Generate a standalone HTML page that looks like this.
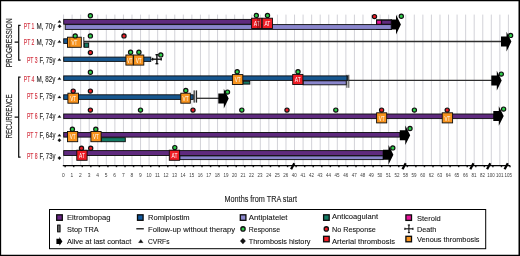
<!DOCTYPE html>
<html lang="en"><head><meta charset="utf-8"><title>TRA timeline</title>
<style>html,body{margin:0;padding:0;background:#fff}body{width:520px;height:256px;overflow:hidden}svg{display:block}</style></head>
<body>
<svg width="520" height="256" viewBox="0 0 520 256" font-family="'Liberation Sans', sans-serif">
<rect x="0" y="0" width="520" height="256" fill="#fff"/>
<path d="M0 0H520V256H0Z M1.15 1.35V254.75H518.5V1.35Z" fill="#000" fill-rule="evenodd"/>
<g stroke="#cdcdd4" stroke-width="0.9">
<line x1="63.55" y1="14.6" x2="63.55" y2="165.5"/>
<line x1="72.10" y1="14.6" x2="72.10" y2="165.5"/>
<line x1="80.66" y1="14.6" x2="80.66" y2="165.5"/>
<line x1="89.22" y1="14.6" x2="89.22" y2="165.5"/>
<line x1="97.77" y1="14.6" x2="97.77" y2="165.5"/>
<line x1="106.32" y1="14.6" x2="106.32" y2="165.5"/>
<line x1="114.88" y1="14.6" x2="114.88" y2="165.5"/>
<line x1="123.44" y1="14.6" x2="123.44" y2="165.5"/>
<line x1="131.99" y1="14.6" x2="131.99" y2="165.5"/>
<line x1="140.55" y1="14.6" x2="140.55" y2="165.5"/>
<line x1="149.10" y1="14.6" x2="149.10" y2="165.5"/>
<line x1="157.65" y1="14.6" x2="157.65" y2="165.5"/>
<line x1="166.21" y1="14.6" x2="166.21" y2="165.5"/>
<line x1="174.76" y1="14.6" x2="174.76" y2="165.5"/>
<line x1="183.32" y1="14.6" x2="183.32" y2="165.5"/>
<line x1="191.88" y1="14.6" x2="191.88" y2="165.5"/>
<line x1="200.43" y1="14.6" x2="200.43" y2="165.5"/>
<line x1="208.99" y1="14.6" x2="208.99" y2="165.5"/>
<line x1="217.54" y1="14.6" x2="217.54" y2="165.5"/>
<line x1="226.09" y1="14.6" x2="226.09" y2="165.5"/>
<line x1="234.65" y1="14.6" x2="234.65" y2="165.5"/>
<line x1="243.20" y1="14.6" x2="243.20" y2="165.5"/>
<line x1="251.76" y1="14.6" x2="251.76" y2="165.5"/>
<line x1="260.31" y1="14.6" x2="260.31" y2="165.5"/>
<line x1="268.87" y1="14.6" x2="268.87" y2="165.5"/>
<line x1="277.43" y1="14.6" x2="277.43" y2="165.5"/>
<line x1="285.98" y1="14.6" x2="285.98" y2="165.5"/>
<line x1="294.53" y1="14.6" x2="294.53" y2="165.5"/>
<line x1="303.09" y1="14.6" x2="303.09" y2="165.5"/>
<line x1="311.64" y1="14.6" x2="311.64" y2="165.5"/>
<line x1="320.20" y1="14.6" x2="320.20" y2="165.5"/>
<line x1="328.75" y1="14.6" x2="328.75" y2="165.5"/>
<line x1="337.31" y1="14.6" x2="337.31" y2="165.5"/>
<line x1="345.87" y1="14.6" x2="345.87" y2="165.5"/>
<line x1="354.42" y1="14.6" x2="354.42" y2="165.5"/>
<line x1="362.98" y1="14.6" x2="362.98" y2="165.5"/>
<line x1="371.53" y1="14.6" x2="371.53" y2="165.5"/>
<line x1="380.08" y1="14.6" x2="380.08" y2="165.5"/>
<line x1="388.64" y1="14.6" x2="388.64" y2="165.5"/>
<line x1="397.19" y1="14.6" x2="397.19" y2="165.5"/>
<line x1="405.75" y1="14.6" x2="405.75" y2="165.5"/>
<line x1="414.31" y1="14.6" x2="414.31" y2="165.5"/>
<line x1="422.86" y1="14.6" x2="422.86" y2="165.5"/>
<line x1="431.42" y1="14.6" x2="431.42" y2="165.5"/>
<line x1="439.97" y1="14.6" x2="439.97" y2="165.5"/>
<line x1="448.52" y1="14.6" x2="448.52" y2="165.5"/>
<line x1="457.08" y1="14.6" x2="457.08" y2="165.5"/>
<line x1="465.63" y1="14.6" x2="465.63" y2="165.5"/>
<line x1="474.19" y1="14.6" x2="474.19" y2="165.5"/>
<line x1="482.75" y1="14.6" x2="482.75" y2="165.5"/>
<line x1="491.30" y1="14.6" x2="491.30" y2="165.5"/>
<line x1="499.86" y1="14.6" x2="499.86" y2="165.5"/>
<line x1="508.41" y1="14.6" x2="508.41" y2="165.5"/>
</g>
<rect x="376" y="19.4" width="16" height="10.4" fill="#000"/>
<path d="M390.50 19.60H396.00V14.80L400.90 24.60L396.00 34.40V29.60H390.50Z" fill="#000"/>
<rect x="63.70" y="19.40" width="187.50" height="4.80" fill="#5f2a7e" stroke="#0c0c0c" stroke-width="0.9"/>
<rect x="65.20" y="24.60" width="326.00" height="4.80" fill="#8a86cc" stroke="#0c0c0c" stroke-width="0.9"/>
<rect x="251.60" y="18.20" width="10.20" height="10.30" fill="#ee1c25" stroke="#0c0c0c" stroke-width="0.9"/>
<text x="253.75" y="26.05" font-size="7.5" fill="#fff" stroke="#fff" stroke-width="0" text-anchor="start" textLength="5.90" lengthAdjust="spacingAndGlyphs" >AT</text>
<rect x="262.20" y="18.20" width="10.30" height="10.30" fill="#ee1c25" stroke="#0c0c0c" stroke-width="0.9"/>
<text x="264.40" y="26.05" font-size="7.5" fill="#fff" stroke="#fff" stroke-width="0" text-anchor="start" textLength="5.90" lengthAdjust="spacingAndGlyphs" >AT</text>
<line x1="257.80" y1="18.30" x2="257.80" y2="28.40" stroke="#4a0508" stroke-width="0.6" />
<line x1="259.30" y1="18.30" x2="259.30" y2="28.40" stroke="#4a0508" stroke-width="0.6" />
<rect x="376.70" y="20.20" width="4.60" height="4.00" fill="#e8149a" stroke="#0c0c0c" stroke-width="0.9"/>
<rect x="381.70" y="20.20" width="9.50" height="4.00" fill="#5f2a7e" stroke="#0c0c0c" stroke-width="0.9"/>
<circle cx="90.40" cy="15.70" r="2.1" fill="#2fd04a" stroke="#111" stroke-width="1.2"/>
<circle cx="256.30" cy="15.40" r="2.1" fill="#2fd04a" stroke="#111" stroke-width="1.2"/>
<circle cx="267.50" cy="15.40" r="2.1" fill="#2fd04a" stroke="#111" stroke-width="1.2"/>
<circle cx="374.50" cy="16.60" r="2.1" fill="#ee1c25" stroke="#111" stroke-width="1.2"/>
<circle cx="401.30" cy="16.30" r="2.1" fill="#2fd04a" stroke="#111" stroke-width="1.2"/>
<line x1="84.00" y1="41.50" x2="502.00" y2="41.50" stroke="#303030" stroke-width="1.3" />
<rect x="63.70" y="38.80" width="4.10" height="4.60" fill="#17578f" stroke="#0c0c0c" stroke-width="0.9"/>
<rect x="67.50" y="37.20" width="13.80" height="10.10" fill="#f7931e" stroke="#0c0c0c" stroke-width="0.9"/>
<text x="71.45" y="44.95" font-size="7.5" fill="#fff" stroke="#fff" stroke-width="0" text-anchor="start" textLength="5.90" lengthAdjust="spacingAndGlyphs" >VT</text>
<line x1="69.80" y1="37.00" x2="69.80" y2="47.50" stroke="#6b3d08" stroke-width="0.6" />
<line x1="83.80" y1="37.00" x2="83.80" y2="47.50" stroke="#111" stroke-width="0.9" />
<rect x="84.40" y="43.00" width="4.20" height="4.30" fill="#147a64" stroke="#0c0c0c" stroke-width="0.9"/>
<path d="M501.00 36.60H506.50V31.80L511.40 41.60L506.50 51.40V46.60H501.00Z" fill="#000"/>
<circle cx="75.20" cy="35.90" r="2.1" fill="#2fd04a" stroke="#111" stroke-width="1.2"/>
<circle cx="90.40" cy="35.90" r="2.1" fill="#2fd04a" stroke="#111" stroke-width="1.2"/>
<circle cx="124.00" cy="35.90" r="2.1" fill="#ee1c25" stroke="#111" stroke-width="1.2"/>
<circle cx="510.60" cy="35.40" r="2.1" fill="#2fd04a" stroke="#111" stroke-width="1.2"/>
<rect x="63.70" y="57.10" width="87.10" height="4.30" fill="#17578f" stroke="#0c0c0c" stroke-width="0.9"/>
<rect x="125.90" y="55.00" width="7.30" height="10.10" fill="#f7931e" stroke="#0c0c0c" stroke-width="0.9"/>
<text x="126.90" y="62.75" font-size="7.5" fill="#fff" stroke="#fff" stroke-width="0" text-anchor="start" textLength="5.30" lengthAdjust="spacingAndGlyphs" >VT</text>
<rect x="133.60" y="55.00" width="10.20" height="10.10" fill="#f7931e" stroke="#0c0c0c" stroke-width="0.9"/>
<text x="135.75" y="62.75" font-size="7.5" fill="#fff" stroke="#fff" stroke-width="0" text-anchor="start" textLength="5.90" lengthAdjust="spacingAndGlyphs" >VT</text>
<line x1="151.00" y1="59.30" x2="153.00" y2="59.30" stroke="#111" stroke-width="0.9" />
<line x1="152.60" y1="59.20" x2="161.20" y2="59.20" stroke="#111" stroke-width="1.4" />
<line x1="156.90" y1="54.70" x2="156.90" y2="63.70" stroke="#111" stroke-width="1.4" />
<line x1="152.60" y1="57.80" x2="152.60" y2="60.60" stroke="#111" stroke-width="1.4" />
<line x1="161.20" y1="57.80" x2="161.20" y2="60.60" stroke="#111" stroke-width="1.4" />
<line x1="155.50" y1="54.70" x2="158.30" y2="54.70" stroke="#111" stroke-width="1.4" />
<line x1="155.50" y1="63.70" x2="158.30" y2="63.70" stroke="#111" stroke-width="1.4" />
<circle cx="90.40" cy="52.60" r="2.1" fill="#ee1c25" stroke="#111" stroke-width="1.2"/>
<circle cx="130.60" cy="52.30" r="2.1" fill="#2fd04a" stroke="#111" stroke-width="1.2"/>
<circle cx="138.90" cy="52.30" r="2.1" fill="#2fd04a" stroke="#111" stroke-width="1.2"/>
<circle cx="160.80" cy="54.90" r="2.1" fill="#2fd04a" stroke="#111" stroke-width="1.2"/>
<line x1="348.50" y1="80.40" x2="492.00" y2="80.40" stroke="#303030" stroke-width="1.3" />
<rect x="63.70" y="75.90" width="284.10" height="4.50" fill="#17578f" stroke="#0c0c0c" stroke-width="0.9"/>
<rect x="303.20" y="80.80" width="43.00" height="4.00" fill="#8a86cc" stroke="#0c0c0c" stroke-width="0.9"/>
<rect x="243.20" y="81.30" width="6.60" height="2.80" fill="#147a64" stroke="#0c0c0c" stroke-width="0.9"/>
<rect x="232.40" y="74.60" width="10.40" height="9.90" fill="#f7931e" stroke="#0c0c0c" stroke-width="0.9"/>
<text x="234.65" y="82.25" font-size="7.5" fill="#fff" stroke="#fff" stroke-width="0" text-anchor="start" textLength="5.90" lengthAdjust="spacingAndGlyphs" >VT</text>
<rect x="292.70" y="74.40" width="10.20" height="10.10" fill="#ee1c25" stroke="#0c0c0c" stroke-width="0.9"/>
<text x="294.85" y="82.15" font-size="7.5" fill="#fff" stroke="#fff" stroke-width="0" text-anchor="start" textLength="5.90" lengthAdjust="spacingAndGlyphs" >AT</text>
<line x1="346.90" y1="74.80" x2="346.90" y2="87.80" stroke="#111" stroke-width="0.8" />
<line x1="348.80" y1="74.80" x2="348.80" y2="87.80" stroke="#111" stroke-width="0.8" />
<path d="M491.30 75.60H496.80V70.80L501.70 80.60L496.80 90.40V85.60H491.30Z" fill="#000"/>
<circle cx="90.40" cy="72.20" r="2.1" fill="#2fd04a" stroke="#111" stroke-width="1.2"/>
<circle cx="237.20" cy="71.80" r="2.1" fill="#2fd04a" stroke="#111" stroke-width="1.2"/>
<circle cx="298.00" cy="71.80" r="2.1" fill="#2fd04a" stroke="#111" stroke-width="1.2"/>
<circle cx="501.30" cy="74.10" r="2.1" fill="#2fd04a" stroke="#111" stroke-width="1.2"/>
<line x1="196.70" y1="98.30" x2="219.00" y2="98.30" stroke="#303030" stroke-width="1.3" />
<rect x="63.70" y="94.80" width="129.50" height="4.60" fill="#17578f" stroke="#0c0c0c" stroke-width="0.9"/>
<rect x="67.90" y="93.20" width="10.60" height="10.00" fill="#f7931e" stroke="#0c0c0c" stroke-width="0.9"/>
<text x="70.25" y="100.90" font-size="7.5" fill="#fff" stroke="#fff" stroke-width="0" text-anchor="start" textLength="5.90" lengthAdjust="spacingAndGlyphs" >VT</text>
<rect x="180.80" y="93.20" width="9.50" height="10.00" fill="#f7931e" stroke="#0c0c0c" stroke-width="0.9"/>
<text x="182.60" y="100.90" font-size="7.5" fill="#fff" stroke="#fff" stroke-width="0" text-anchor="start" textLength="5.90" lengthAdjust="spacingAndGlyphs" >VT</text>
<rect x="194" y="90.5" width="2.6" height="12" fill="#c4c4c4"/>
<line x1="194.10" y1="90.40" x2="194.10" y2="102.60" stroke="#111" stroke-width="1.0" />
<line x1="196.60" y1="90.40" x2="196.60" y2="102.60" stroke="#111" stroke-width="1.0" />
<path d="M218.30 93.60H223.80V88.80L228.70 98.60L223.80 108.40V103.60H218.30Z" fill="#000"/>
<circle cx="73.20" cy="91.10" r="2.1" fill="#ee1c25" stroke="#111" stroke-width="1.2"/>
<circle cx="90.40" cy="91.10" r="2.1" fill="#ee1c25" stroke="#111" stroke-width="1.2"/>
<circle cx="185.80" cy="90.40" r="2.1" fill="#2fd04a" stroke="#111" stroke-width="1.2"/>
<circle cx="227.50" cy="92.10" r="2.1" fill="#2fd04a" stroke="#111" stroke-width="1.2"/>
<rect x="63.70" y="114.00" width="430.10" height="4.60" fill="#5f2a7e" stroke="#0c0c0c" stroke-width="0.9"/>
<path d="M493.30 111.00H498.80V106.20L503.70 116.00L498.80 125.80V121.00H493.30Z" fill="#000"/>
<rect x="376.60" y="112.80" width="10.10" height="10.10" fill="#f7931e" stroke="#0c0c0c" stroke-width="0.9"/>
<text x="378.70" y="120.55" font-size="7.5" fill="#fff" stroke="#fff" stroke-width="0" text-anchor="start" textLength="5.90" lengthAdjust="spacingAndGlyphs" >VT</text>
<rect x="442.20" y="112.80" width="10.40" height="10.10" fill="#f7931e" stroke="#0c0c0c" stroke-width="0.9"/>
<text x="444.45" y="120.55" font-size="7.5" fill="#fff" stroke="#fff" stroke-width="0" text-anchor="start" textLength="5.90" lengthAdjust="spacingAndGlyphs" >VT</text>
<circle cx="90.40" cy="110.10" r="2.1" fill="#ee1c25" stroke="#111" stroke-width="1.2"/>
<circle cx="140.50" cy="110.10" r="2.1" fill="#2fd04a" stroke="#111" stroke-width="1.2"/>
<circle cx="193.00" cy="110.10" r="2.1" fill="#ee1c25" stroke="#111" stroke-width="1.2"/>
<circle cx="241.80" cy="110.10" r="2.1" fill="#2fd04a" stroke="#111" stroke-width="1.2"/>
<circle cx="287.00" cy="110.10" r="2.1" fill="#ee1c25" stroke="#111" stroke-width="1.2"/>
<circle cx="335.80" cy="110.10" r="2.1" fill="#2fd04a" stroke="#111" stroke-width="1.2"/>
<circle cx="381.60" cy="110.10" r="2.1" fill="#ee1c25" stroke="#111" stroke-width="1.2"/>
<circle cx="414.40" cy="110.10" r="2.1" fill="#2fd04a" stroke="#111" stroke-width="1.2"/>
<circle cx="447.20" cy="110.10" r="2.1" fill="#ee1c25" stroke="#111" stroke-width="1.2"/>
<circle cx="503.60" cy="109.10" r="2.1" fill="#2fd04a" stroke="#111" stroke-width="1.2"/>
<rect x="63.70" y="132.50" width="336.10" height="4.60" fill="#5f2a7e" stroke="#0c0c0c" stroke-width="0.9"/>
<rect x="101.50" y="137.70" width="23.80" height="4.00" fill="#147a64" stroke="#0c0c0c" stroke-width="0.9"/>
<rect x="67.50" y="131.50" width="10.20" height="10.20" fill="#f7931e" stroke="#0c0c0c" stroke-width="0.9"/>
<text x="69.65" y="139.30" font-size="7.5" fill="#fff" stroke="#fff" stroke-width="0" text-anchor="start" textLength="5.90" lengthAdjust="spacingAndGlyphs" >VT</text>
<rect x="90.90" y="131.50" width="10.20" height="10.20" fill="#f7931e" stroke="#0c0c0c" stroke-width="0.9"/>
<text x="93.05" y="139.30" font-size="7.5" fill="#fff" stroke="#fff" stroke-width="0" text-anchor="start" textLength="5.90" lengthAdjust="spacingAndGlyphs" >VT</text>
<path d="M399.80 130.30H405.30V125.50L410.20 135.30L405.30 145.10V140.30H399.80Z" fill="#000"/>
<circle cx="72.40" cy="129.30" r="2.1" fill="#2fd04a" stroke="#111" stroke-width="1.2"/>
<circle cx="95.80" cy="129.30" r="2.1" fill="#2fd04a" stroke="#111" stroke-width="1.2"/>
<circle cx="410.00" cy="128.50" r="2.1" fill="#2fd04a" stroke="#111" stroke-width="1.2"/>
<rect x="63.70" y="150.60" width="319.40" height="4.90" fill="#5f2a7e" stroke="#0c0c0c" stroke-width="0.9"/>
<rect x="179.90" y="155.90" width="203.20" height="3.70" fill="#8a86cc" stroke="#0c0c0c" stroke-width="0.9"/>
<rect x="76.80" y="150.20" width="10.30" height="10.10" fill="#ee1c25" stroke="#0c0c0c" stroke-width="0.9"/>
<text x="79.00" y="157.95" font-size="7.5" fill="#fff" stroke="#fff" stroke-width="0" text-anchor="start" textLength="5.90" lengthAdjust="spacingAndGlyphs" >AT</text>
<rect x="169.30" y="150.20" width="10.30" height="10.10" fill="#ee1c25" stroke="#0c0c0c" stroke-width="0.9"/>
<text x="171.50" y="157.95" font-size="7.5" fill="#fff" stroke="#fff" stroke-width="0" text-anchor="start" textLength="5.90" lengthAdjust="spacingAndGlyphs" >AT</text>
<path d="M383.00 149.80H388.50V145.00L393.40 154.80L388.50 164.60V159.80H383.00Z" fill="#000"/>
<circle cx="81.50" cy="148.20" r="2.1" fill="#ee1c25" stroke="#111" stroke-width="1.2"/>
<circle cx="90.70" cy="148.20" r="2.1" fill="#ee1c25" stroke="#111" stroke-width="1.2"/>
<circle cx="174.80" cy="147.60" r="2.1" fill="#2fd04a" stroke="#111" stroke-width="1.2"/>
<circle cx="392.80" cy="147.90" r="2.1" fill="#2fd04a" stroke="#111" stroke-width="1.2"/>
<line x1="62.80" y1="165.50" x2="510.00" y2="165.50" stroke="#000" stroke-width="1.25" />
<g stroke="#000" stroke-width="1.5" opacity="0.85">
<line x1="65.15" y1="165.6" x2="65.15" y2="167.2"/>
<line x1="73.70" y1="165.6" x2="73.70" y2="167.2"/>
<line x1="82.26" y1="165.6" x2="82.26" y2="167.2"/>
<line x1="90.81" y1="165.6" x2="90.81" y2="167.2"/>
<line x1="99.37" y1="165.6" x2="99.37" y2="167.2"/>
<line x1="107.92" y1="165.6" x2="107.92" y2="167.2"/>
<line x1="116.48" y1="165.6" x2="116.48" y2="167.2"/>
<line x1="125.03" y1="165.6" x2="125.03" y2="167.2"/>
<line x1="133.59" y1="165.6" x2="133.59" y2="167.2"/>
<line x1="142.15" y1="165.6" x2="142.15" y2="167.2"/>
<line x1="150.70" y1="165.6" x2="150.70" y2="167.2"/>
<line x1="159.25" y1="165.6" x2="159.25" y2="167.2"/>
<line x1="167.81" y1="165.6" x2="167.81" y2="167.2"/>
<line x1="176.36" y1="165.6" x2="176.36" y2="167.2"/>
<line x1="184.92" y1="165.6" x2="184.92" y2="167.2"/>
<line x1="193.47" y1="165.6" x2="193.47" y2="167.2"/>
<line x1="202.03" y1="165.6" x2="202.03" y2="167.2"/>
<line x1="210.59" y1="165.6" x2="210.59" y2="167.2"/>
<line x1="219.14" y1="165.6" x2="219.14" y2="167.2"/>
<line x1="227.69" y1="165.6" x2="227.69" y2="167.2"/>
<line x1="236.25" y1="165.6" x2="236.25" y2="167.2"/>
<line x1="244.80" y1="165.6" x2="244.80" y2="167.2"/>
<line x1="253.36" y1="165.6" x2="253.36" y2="167.2"/>
<line x1="261.92" y1="165.6" x2="261.92" y2="167.2"/>
<line x1="270.47" y1="165.6" x2="270.47" y2="167.2"/>
<line x1="279.03" y1="165.6" x2="279.03" y2="167.2"/>
<line x1="287.58" y1="165.6" x2="287.58" y2="167.2"/>
<line x1="296.13" y1="165.6" x2="296.13" y2="167.2"/>
<line x1="304.69" y1="165.6" x2="304.69" y2="167.2"/>
<line x1="313.25" y1="165.6" x2="313.25" y2="167.2"/>
<line x1="321.80" y1="165.6" x2="321.80" y2="167.2"/>
<line x1="330.36" y1="165.6" x2="330.36" y2="167.2"/>
<line x1="338.91" y1="165.6" x2="338.91" y2="167.2"/>
<line x1="347.47" y1="165.6" x2="347.47" y2="167.2"/>
<line x1="356.02" y1="165.6" x2="356.02" y2="167.2"/>
<line x1="364.58" y1="165.6" x2="364.58" y2="167.2"/>
<line x1="373.13" y1="165.6" x2="373.13" y2="167.2"/>
<line x1="381.69" y1="165.6" x2="381.69" y2="167.2"/>
<line x1="390.24" y1="165.6" x2="390.24" y2="167.2"/>
<line x1="398.80" y1="165.6" x2="398.80" y2="167.2"/>
<line x1="407.35" y1="165.6" x2="407.35" y2="167.2"/>
<line x1="415.91" y1="165.6" x2="415.91" y2="167.2"/>
<line x1="424.46" y1="165.6" x2="424.46" y2="167.2"/>
<line x1="433.02" y1="165.6" x2="433.02" y2="167.2"/>
<line x1="441.57" y1="165.6" x2="441.57" y2="167.2"/>
<line x1="450.12" y1="165.6" x2="450.12" y2="167.2"/>
<line x1="458.68" y1="165.6" x2="458.68" y2="167.2"/>
<line x1="467.24" y1="165.6" x2="467.24" y2="167.2"/>
<line x1="475.79" y1="165.6" x2="475.79" y2="167.2"/>
<line x1="484.35" y1="165.6" x2="484.35" y2="167.2"/>
<line x1="492.90" y1="165.6" x2="492.90" y2="167.2"/>
<line x1="501.46" y1="165.6" x2="501.46" y2="167.2"/>
<line x1="510.01" y1="165.6" x2="510.01" y2="167.2"/>
</g>
<line x1="294.30" y1="163.30" x2="291.10" y2="169.30" stroke="#000" stroke-width="2.3" />
<line x1="405.70" y1="163.30" x2="402.50" y2="169.30" stroke="#000" stroke-width="2.3" />
<line x1="473.50" y1="163.30" x2="470.30" y2="169.30" stroke="#000" stroke-width="2.3" />
<line x1="490.30" y1="163.30" x2="487.10" y2="169.30" stroke="#000" stroke-width="2.3" />
<line x1="507.80" y1="163.30" x2="504.60" y2="169.30" stroke="#000" stroke-width="2.3" />
<g font-size="5.4" fill="#3a3a3a" text-anchor="middle">
<text x="63.35" y="176.7" textLength="2.7" lengthAdjust="spacingAndGlyphs">0</text>
<text x="71.90" y="176.7" textLength="2.7" lengthAdjust="spacingAndGlyphs">1</text>
<text x="80.46" y="176.7" textLength="2.7" lengthAdjust="spacingAndGlyphs">2</text>
<text x="89.02" y="176.7" textLength="2.7" lengthAdjust="spacingAndGlyphs">3</text>
<text x="97.57" y="176.7" textLength="2.7" lengthAdjust="spacingAndGlyphs">4</text>
<text x="106.12" y="176.7" textLength="2.7" lengthAdjust="spacingAndGlyphs">5</text>
<text x="114.68" y="176.7" textLength="2.7" lengthAdjust="spacingAndGlyphs">6</text>
<text x="123.23" y="176.7" textLength="2.7" lengthAdjust="spacingAndGlyphs">7</text>
<text x="131.79" y="176.7" textLength="2.7" lengthAdjust="spacingAndGlyphs">8</text>
<text x="140.35" y="176.7" textLength="2.7" lengthAdjust="spacingAndGlyphs">9</text>
<text x="148.90" y="176.7" textLength="5.0" lengthAdjust="spacingAndGlyphs">10</text>
<text x="157.45" y="176.7" textLength="5.0" lengthAdjust="spacingAndGlyphs">11</text>
<text x="166.01" y="176.7" textLength="5.0" lengthAdjust="spacingAndGlyphs">12</text>
<text x="174.56" y="176.7" textLength="5.0" lengthAdjust="spacingAndGlyphs">13</text>
<text x="183.12" y="176.7" textLength="5.0" lengthAdjust="spacingAndGlyphs">14</text>
<text x="191.68" y="176.7" textLength="5.0" lengthAdjust="spacingAndGlyphs">15</text>
<text x="200.23" y="176.7" textLength="5.0" lengthAdjust="spacingAndGlyphs">16</text>
<text x="208.79" y="176.7" textLength="5.0" lengthAdjust="spacingAndGlyphs">17</text>
<text x="217.34" y="176.7" textLength="5.0" lengthAdjust="spacingAndGlyphs">18</text>
<text x="225.89" y="176.7" textLength="5.0" lengthAdjust="spacingAndGlyphs">19</text>
<text x="234.45" y="176.7" textLength="5.0" lengthAdjust="spacingAndGlyphs">20</text>
<text x="243.00" y="176.7" textLength="5.0" lengthAdjust="spacingAndGlyphs">21</text>
<text x="251.56" y="176.7" textLength="5.0" lengthAdjust="spacingAndGlyphs">22</text>
<text x="260.12" y="176.7" textLength="5.0" lengthAdjust="spacingAndGlyphs">23</text>
<text x="268.67" y="176.7" textLength="5.0" lengthAdjust="spacingAndGlyphs">24</text>
<text x="277.23" y="176.7" textLength="5.0" lengthAdjust="spacingAndGlyphs">25</text>
<text x="285.78" y="176.7" textLength="5.0" lengthAdjust="spacingAndGlyphs">26</text>
<text x="294.33" y="176.7" textLength="5.0" lengthAdjust="spacingAndGlyphs">40</text>
<text x="302.89" y="176.7" textLength="5.0" lengthAdjust="spacingAndGlyphs">41</text>
<text x="311.44" y="176.7" textLength="5.0" lengthAdjust="spacingAndGlyphs">42</text>
<text x="320.00" y="176.7" textLength="5.0" lengthAdjust="spacingAndGlyphs">43</text>
<text x="328.56" y="176.7" textLength="5.0" lengthAdjust="spacingAndGlyphs">44</text>
<text x="337.11" y="176.7" textLength="5.0" lengthAdjust="spacingAndGlyphs">45</text>
<text x="345.67" y="176.7" textLength="5.0" lengthAdjust="spacingAndGlyphs">46</text>
<text x="354.22" y="176.7" textLength="5.0" lengthAdjust="spacingAndGlyphs">47</text>
<text x="362.78" y="176.7" textLength="5.0" lengthAdjust="spacingAndGlyphs">48</text>
<text x="371.33" y="176.7" textLength="5.0" lengthAdjust="spacingAndGlyphs">49</text>
<text x="379.88" y="176.7" textLength="5.0" lengthAdjust="spacingAndGlyphs">50</text>
<text x="388.44" y="176.7" textLength="5.0" lengthAdjust="spacingAndGlyphs">51</text>
<text x="397.00" y="176.7" textLength="5.0" lengthAdjust="spacingAndGlyphs">52</text>
<text x="405.55" y="176.7" textLength="5.0" lengthAdjust="spacingAndGlyphs">58</text>
<text x="414.11" y="176.7" textLength="5.0" lengthAdjust="spacingAndGlyphs">59</text>
<text x="422.66" y="176.7" textLength="5.0" lengthAdjust="spacingAndGlyphs">60</text>
<text x="431.22" y="176.7" textLength="5.0" lengthAdjust="spacingAndGlyphs">62</text>
<text x="439.77" y="176.7" textLength="5.0" lengthAdjust="spacingAndGlyphs">63</text>
<text x="448.32" y="176.7" textLength="5.0" lengthAdjust="spacingAndGlyphs">64</text>
<text x="456.88" y="176.7" textLength="5.0" lengthAdjust="spacingAndGlyphs">65</text>
<text x="465.44" y="176.7" textLength="5.0" lengthAdjust="spacingAndGlyphs">66</text>
<text x="473.99" y="176.7" textLength="5.0" lengthAdjust="spacingAndGlyphs">81</text>
<text x="482.55" y="176.7" textLength="5.0" lengthAdjust="spacingAndGlyphs">82</text>
<text x="491.10" y="176.7" textLength="7.5" lengthAdjust="spacingAndGlyphs">100</text>
<text x="499.66" y="176.7" textLength="7.5" lengthAdjust="spacingAndGlyphs">101</text>
<text x="508.21" y="176.7" textLength="7.5" lengthAdjust="spacingAndGlyphs">105</text>
</g>
<text x="224.50" y="202.20" font-size="9.8" fill="#222" stroke="#222" stroke-width="0.12" text-anchor="start" textLength="72.50" lengthAdjust="spacingAndGlyphs" >Months from TRA start</text>
<text x="23.80" y="28.60" font-size="8.4" fill="#d2303e" stroke="#d2303e" stroke-width="0.15" text-anchor="start" textLength="10.60" lengthAdjust="spacingAndGlyphs" >PT 1</text>
<text x="36.60" y="28.60" font-size="8.4" fill="#2a2a2a" stroke="#2a2a2a" stroke-width="0.15" text-anchor="start" textLength="18.80" lengthAdjust="spacingAndGlyphs" >M, 70y</text>
<text x="23.80" y="44.60" font-size="8.4" fill="#d2303e" stroke="#d2303e" stroke-width="0.15" text-anchor="start" textLength="10.60" lengthAdjust="spacingAndGlyphs" >PT 2</text>
<text x="36.60" y="44.60" font-size="8.4" fill="#2a2a2a" stroke="#2a2a2a" stroke-width="0.15" text-anchor="start" textLength="18.80" lengthAdjust="spacingAndGlyphs" >M, 73y</text>
<text x="27.00" y="62.60" font-size="8.4" fill="#d2303e" stroke="#d2303e" stroke-width="0.15" text-anchor="start" textLength="10.60" lengthAdjust="spacingAndGlyphs" >PT 3</text>
<text x="39.60" y="62.60" font-size="8.4" fill="#2a2a2a" stroke="#2a2a2a" stroke-width="0.15" text-anchor="start" textLength="15.80" lengthAdjust="spacingAndGlyphs" >F, 75y</text>
<text x="23.80" y="81.60" font-size="8.4" fill="#d2303e" stroke="#d2303e" stroke-width="0.15" text-anchor="start" textLength="10.60" lengthAdjust="spacingAndGlyphs" >PT 4</text>
<text x="36.60" y="81.60" font-size="8.4" fill="#2a2a2a" stroke="#2a2a2a" stroke-width="0.15" text-anchor="start" textLength="18.80" lengthAdjust="spacingAndGlyphs" >M, 82y</text>
<text x="27.00" y="99.30" font-size="8.4" fill="#d2303e" stroke="#d2303e" stroke-width="0.15" text-anchor="start" textLength="10.60" lengthAdjust="spacingAndGlyphs" >PT 5</text>
<text x="39.60" y="99.30" font-size="8.4" fill="#2a2a2a" stroke="#2a2a2a" stroke-width="0.15" text-anchor="start" textLength="15.80" lengthAdjust="spacingAndGlyphs" >F, 75y</text>
<text x="27.00" y="119.30" font-size="8.4" fill="#d2303e" stroke="#d2303e" stroke-width="0.15" text-anchor="start" textLength="10.60" lengthAdjust="spacingAndGlyphs" >PT 6</text>
<text x="39.60" y="119.30" font-size="8.4" fill="#2a2a2a" stroke="#2a2a2a" stroke-width="0.15" text-anchor="start" textLength="15.80" lengthAdjust="spacingAndGlyphs" >F, 74y</text>
<text x="27.00" y="138.00" font-size="8.4" fill="#d2303e" stroke="#d2303e" stroke-width="0.15" text-anchor="start" textLength="10.60" lengthAdjust="spacingAndGlyphs" >PT 7</text>
<text x="39.60" y="138.00" font-size="8.4" fill="#2a2a2a" stroke="#2a2a2a" stroke-width="0.15" text-anchor="start" textLength="15.80" lengthAdjust="spacingAndGlyphs" >F, 64y</text>
<text x="27.00" y="159.30" font-size="8.4" fill="#d2303e" stroke="#d2303e" stroke-width="0.15" text-anchor="start" textLength="10.60" lengthAdjust="spacingAndGlyphs" >PT 8</text>
<text x="39.60" y="159.30" font-size="8.4" fill="#2a2a2a" stroke="#2a2a2a" stroke-width="0.15" text-anchor="start" textLength="15.80" lengthAdjust="spacingAndGlyphs" >F, 73y</text>
<path d="M20.6 25.4H18.7V60H20.6M18.7 42H14.6" fill="none" stroke="#111" stroke-width="1.25"/>
<path d="M20.6 77H18.7V157H20.6M18.7 117.2H14.6" fill="none" stroke="#111" stroke-width="1.25"/>
<text transform="translate(12,67.3) rotate(-90)" font-size="9" fill="#222" stroke="#222" stroke-width="0.15" textLength="49" lengthAdjust="spacingAndGlyphs">PROGRESSION</text>
<text transform="translate(12,138.4) rotate(-90)" font-size="9" fill="#222" stroke="#222" stroke-width="0.15" textLength="44" lengthAdjust="spacingAndGlyphs">RECURRENCE</text>
<path d="M57.90 22.39L59.50 20.15L61.10 22.39Z" fill="#111" stroke="#111" stroke-width="0.3" stroke-linejoin="round"/>
<path d="M57.95 26.30L59.60 24.55L61.25 26.30L59.60 28.05Z" fill="#111" stroke="#111" stroke-width="0.3" stroke-linejoin="round"/>
<path d="M57.80 42.59L59.40 40.35L61.00 42.59Z" fill="#111" stroke="#111" stroke-width="0.3" stroke-linejoin="round"/>
<path d="M57.80 60.59L59.40 58.35L61.00 60.59Z" fill="#111" stroke="#111" stroke-width="0.3" stroke-linejoin="round"/>
<path d="M57.80 79.59L59.40 77.35L61.00 79.59Z" fill="#111" stroke="#111" stroke-width="0.3" stroke-linejoin="round"/>
<path d="M57.80 97.99L59.40 95.75L61.00 97.99Z" fill="#111" stroke="#111" stroke-width="0.3" stroke-linejoin="round"/>
<path d="M57.80 117.49L59.40 115.25L61.00 117.49Z" fill="#111" stroke="#111" stroke-width="0.3" stroke-linejoin="round"/>
<path d="M57.80 136.19L59.40 133.95L61.00 136.19Z" fill="#111" stroke="#111" stroke-width="0.3" stroke-linejoin="round"/>
<path d="M57.75 140.20L59.40 138.45L61.05 140.20L59.40 141.95Z" fill="#111" stroke="#111" stroke-width="0.3" stroke-linejoin="round"/>
<path d="M57.75 158.00L59.40 156.25L61.05 158.00L59.40 159.75Z" fill="#111" stroke="#111" stroke-width="0.3" stroke-linejoin="round"/>
<rect x="49.5" y="209.5" width="436.2" height="39.2" fill="#fff" stroke="#000" stroke-width="1"/>
<rect x="56.70" y="214.80" width="5.60" height="5.50" fill="#6b2786" stroke="#0a0a0a" stroke-width="1.3"/>
<text x="67.00" y="220.30" font-size="7.6" fill="#111" stroke="#111" stroke-width="0.08" text-anchor="start" textLength="43.50" lengthAdjust="spacingAndGlyphs" >Eltrombopag</text>
<rect x="57.60" y="225.00" width="2.50" height="6.90" fill="#6a6a6a" stroke="#000" stroke-width="0.9"/>
<text x="67.00" y="232.00" font-size="7.6" fill="#111" stroke="#111" stroke-width="0.08" text-anchor="start" textLength="31.80" lengthAdjust="spacingAndGlyphs" >Stop TRA</text>
<path d="M56.40 238.80H59.40V237.00L62.40 241.40L59.40 245.80V244.00H56.40Z" fill="#000"/>
<text x="67.00" y="244.00" font-size="7.6" fill="#111" stroke="#111" stroke-width="0.08" text-anchor="start" textLength="64.30" lengthAdjust="spacingAndGlyphs" >Alive at last contact</text>
<rect x="137.50" y="214.80" width="5.60" height="5.50" fill="#125a9f" stroke="#0a0a0a" stroke-width="1.3"/>
<text x="148.00" y="220.30" font-size="7.6" fill="#111" stroke="#111" stroke-width="0.08" text-anchor="start" textLength="41.50" lengthAdjust="spacingAndGlyphs" >Romiplostim</text>
<line x1="136.30" y1="228.80" x2="143.80" y2="228.80" stroke="#000" stroke-width="1.2" />
<text x="148.00" y="232.00" font-size="7.6" fill="#111" stroke="#111" stroke-width="0.08" text-anchor="start" textLength="87.00" lengthAdjust="spacingAndGlyphs" >Follow-up without therapy</text>
<path d="M138.50 242.63L140.80 239.41L143.10 242.63Z" fill="#111" stroke="#111" stroke-width="0.3" stroke-linejoin="round"/>
<text x="148.00" y="244.00" font-size="7.6" fill="#111" stroke="#111" stroke-width="0.08" text-anchor="start" textLength="21.50" lengthAdjust="spacingAndGlyphs" >CVRFs</text>
<rect x="240.30" y="214.80" width="5.60" height="5.50" fill="#8a86cc" stroke="#0a0a0a" stroke-width="1.3"/>
<text x="248.80" y="219.60" font-size="7.6" fill="#111" stroke="#111" stroke-width="0.08" text-anchor="start" textLength="38.70" lengthAdjust="spacingAndGlyphs" >Antiplatelet</text>
<circle cx="243.00" cy="228.90" r="2.15" fill="#2fd04a" stroke="#111" stroke-width="1.3"/>
<text x="248.80" y="232.00" font-size="7.6" fill="#111" stroke="#111" stroke-width="0.08" text-anchor="start" textLength="31.20" lengthAdjust="spacingAndGlyphs" >Response</text>
<path d="M240.20 241.10L242.90 238.20L245.60 241.10L242.90 244.00Z" fill="#111" stroke="#111" stroke-width="0.3" stroke-linejoin="round"/>
<text x="248.80" y="244.00" font-size="7.6" fill="#111" stroke="#111" stroke-width="0.08" text-anchor="start" textLength="61.70" lengthAdjust="spacingAndGlyphs" >Thrombosis history</text>
<rect x="323.60" y="214.80" width="5.60" height="5.50" fill="#147a64" stroke="#0a0a0a" stroke-width="1.3"/>
<text x="332.00" y="219.30" font-size="7.6" fill="#111" stroke="#111" stroke-width="0.08" text-anchor="start" textLength="46.00" lengthAdjust="spacingAndGlyphs" >Anticoagulant</text>
<circle cx="326.30" cy="228.90" r="2.15" fill="#ee1c25" stroke="#111" stroke-width="1.3"/>
<text x="332.00" y="231.80" font-size="7.6" fill="#111" stroke="#111" stroke-width="0.08" text-anchor="start" textLength="43.80" lengthAdjust="spacingAndGlyphs" >No Response</text>
<rect x="323.60" y="236.30" width="5.60" height="5.50" fill="#ee1c25" stroke="#0a0a0a" stroke-width="1.3"/>
<text x="332.00" y="243.80" font-size="7.6" fill="#111" stroke="#111" stroke-width="0.08" text-anchor="start" textLength="63.00" lengthAdjust="spacingAndGlyphs" >Arterial thrombosis</text>
<rect x="405.90" y="214.90" width="5.60" height="5.50" fill="#e8149a" stroke="#0a0a0a" stroke-width="1.3"/>
<text x="417.00" y="220.90" font-size="7.6" fill="#111" stroke="#111" stroke-width="0.08" text-anchor="start" textLength="23.80" lengthAdjust="spacingAndGlyphs" >Steroid</text>
<line x1="404.90" y1="228.80" x2="412.90" y2="228.80" stroke="#111" stroke-width="1.1" />
<line x1="408.90" y1="225.00" x2="408.90" y2="232.60" stroke="#111" stroke-width="1.1" />
<line x1="404.90" y1="227.70" x2="404.90" y2="229.90" stroke="#111" stroke-width="1.1" />
<line x1="412.90" y1="227.70" x2="412.90" y2="229.90" stroke="#111" stroke-width="1.1" />
<line x1="407.80" y1="225.00" x2="410.00" y2="225.00" stroke="#111" stroke-width="1.1" />
<line x1="407.80" y1="232.60" x2="410.00" y2="232.60" stroke="#111" stroke-width="1.1" />
<text x="417.00" y="231.60" font-size="7.6" fill="#111" stroke="#111" stroke-width="0.08" text-anchor="start" textLength="19.30" lengthAdjust="spacingAndGlyphs" >Death</text>
<rect x="405.90" y="236.30" width="5.60" height="5.50" fill="#f7931e" stroke="#0a0a0a" stroke-width="1.3"/>
<text x="417.00" y="241.60" font-size="7.6" fill="#111" stroke="#111" stroke-width="0.08" text-anchor="start" textLength="62.50" lengthAdjust="spacingAndGlyphs" >Venous thrombosis</text>
</svg>
</body></html>
